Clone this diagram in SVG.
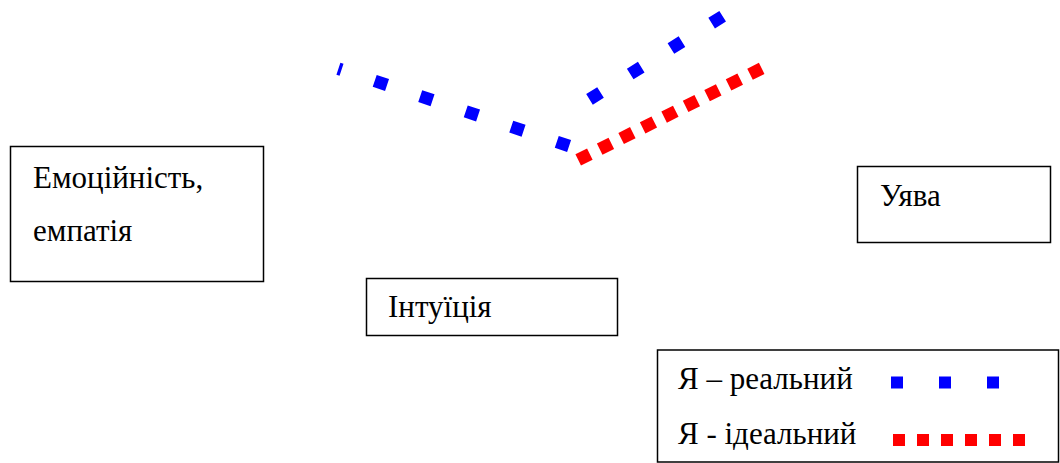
<svg xmlns="http://www.w3.org/2000/svg" width="1060" height="463" viewBox="0 0 1060 463">
<style>
.box{fill:#fff;stroke:#000;stroke-width:1.5}
.t{font-family:"Liberation Serif",serif;font-size:31px;fill:#000}
.real{fill:none;stroke:#0000ff;stroke-width:12.5;stroke-dasharray:13 35}
.ideal{fill:none;stroke:#ff0000;stroke-width:12.5;stroke-dasharray:13 11}
</style>
<rect width="1060" height="463" fill="#fff"/>
<g id="connectors">
<line class="real" x1="338.4" y1="68.7" x2="570" y2="146.3" stroke-dashoffset="9.7"/>
<line class="real" x1="589.5" y1="99.4" x2="724" y2="15.4"/>
<line class="ideal" x1="578.2" y1="159.9" x2="762" y2="68.3"/>
</g>
<g id="node-emotion">
<rect class="box" x="10.5" y="146.5" width="253" height="135"/>
<text class="t" x="33" y="188">Емоційність,</text>
<text class="t" x="33" y="241">емпатія</text>
</g>
<g id="node-imagination">
<rect class="box" x="857.5" y="166.5" width="193" height="76"/>
<text class="t" x="880" y="206">Уява</text>
</g>
<g id="node-intuition">
<rect class="box" x="366.5" y="278.5" width="251" height="57"/>
<text class="t" x="388" y="317">Інтуїція</text>
</g>
<g id="legend">
<rect class="box" x="657.5" y="350" width="401" height="112"/>
<text class="t" x="678" y="389">Я – реальний</text>
<text class="t" x="678" y="444">Я - ідеальний</text>
<line x1="891" y1="382.5" x2="999" y2="382.5" stroke="#0000ff" stroke-width="12" stroke-dasharray="12 36"/>
<line x1="893" y1="440" x2="1025" y2="440" stroke="#ff0000" stroke-width="12" stroke-dasharray="12 12"/>
</g>
</svg>
